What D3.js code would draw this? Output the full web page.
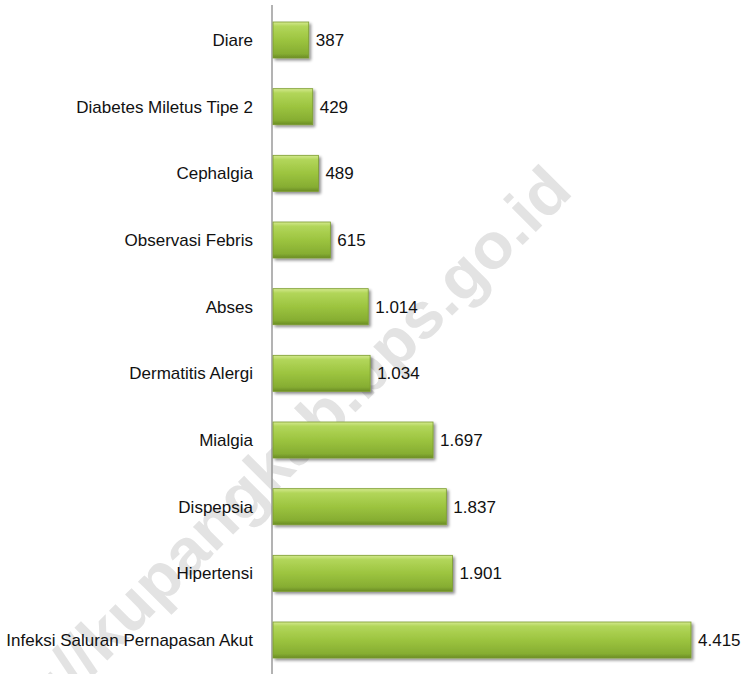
<!DOCTYPE html>
<html>
<head>
<meta charset="utf-8" />
<script src="https://cdn.jsdelivr.net/npm/d3@7"></script>
<style>
  html, body { margin: 0; padding: 0; background: #fff; }
  svg { display: block; }
  .lbl { font-family: "Liberation Sans", Arial, sans-serif; font-size: 17px; fill: #111; }
  .val { font-family: "Liberation Sans", Arial, sans-serif; font-size: 17px; fill: #111; }
  .wm { font-family: "Liberation Sans", Arial, sans-serif; font-weight: bold; font-size: 64px; fill: #e3e3e3; }
</style>
</head>
<body>
<svg id="mainsvg" width="746" height="674"></svg>
<script>
  // data (top to bottom)
  const categories = ["Diare", "Diabetes Miletus Tipe 2", "Cephalgia", "Observasi Febris", "Abses",
    "Dermatitis Alergi", "Mialgia", "Dispepsia", "Hipertensi", "Infeksi Saluran Pernapasan Akut"];
  const values = [387, 429, 489, 615, 1014, 1034, 1697, 1837, 1901, 4415];
  const watermark = "http://kupangkab.bps.go.id";

  const data = categories.map((c, i) => ({ name: c, value: values[i] }));

  const svg = d3.select("#mainsvg");
  const axisX = 272;

  const yScale = d3.scaleBand().domain(categories).range([22, 658]).paddingInner(0.46).paddingOuter(0);
  const xScale = d3.scaleLinear().domain([0, 4415]).range([axisX, 691]);
  const fmt = d3.formatLocale({ decimal: ",", thousands: ".", grouping: [3], currency: ["", ""] }).format(",d");

  const defs = svg.append("defs");
  const grad = defs.append("linearGradient").attr("id", "barGrad")
    .attr("x1", 0).attr("y1", 0).attr("x2", 0).attr("y2", 1);
  grad.append("stop").attr("offset", "0%").attr("stop-color", "#d4e98e");
  grad.append("stop").attr("offset", "12%").attr("stop-color", "#b2d65a");
  grad.append("stop").attr("offset", "50%").attr("stop-color", "#9cc43f");
  grad.append("stop").attr("offset", "88%").attr("stop-color", "#86ad32");
  grad.append("stop").attr("offset", "100%").attr("stop-color", "#6a8c25");

  const shadow = defs.append("filter").attr("id", "shadow").attr("x", "-5%").attr("y", "-20%")
    .attr("width", "120%").attr("height", "160%");
  shadow.append("feGaussianBlur").attr("in", "SourceAlpha").attr("stdDeviation", 1.5);
  shadow.append("feOffset").attr("dx", 2).attr("dy", 2).attr("result", "ob");
  shadow.append("feComponentTransfer").append("feFuncA").attr("type", "linear").attr("slope", 0.45);
  const merge = shadow.append("feMerge");
  merge.append("feMergeNode");
  merge.append("feMergeNode").attr("in", "SourceGraphic");

  // watermark
  svg.append("text").attr("class", "wm")
    .attr("transform", "translate(258,478) rotate(-45)")
    .attr("text-anchor", "middle").attr("dy", "0.35em")
    .attr("textLength", 850).attr("lengthAdjust", "spacingAndGlyphs")
    .text(watermark);

  // axis line
  svg.append("line").attr("x1", axisX).attr("x2", axisX).attr("y1", 5).attr("y2", 674)
    .attr("stroke", "#8a8a8a").attr("stroke-width", 1.3);

  const g = svg.append("g");
  g.selectAll(".bar").data(data).join("rect").attr("class", "bar")
    .attr("x", xScale(0) + 1)
    .attr("y", d => yScale(d.name))
    .attr("width", d => xScale(d.value) - xScale(0) - 1)
    .attr("height", yScale.bandwidth())
    .attr("fill", "url(#barGrad)")
    .attr("stroke", "#7b9c2e").attr("stroke-width", 0.8)
    .attr("filter", "url(#shadow)");

  g.selectAll(".lbl").data(data).join("text").attr("class", "lbl")
    .attr("x", 253)
    .attr("y", d => yScale(d.name) + yScale.bandwidth() / 2)
    .attr("dy", "0.35em").attr("text-anchor", "end")
    .text(d => d.name);

  g.selectAll(".val").data(data).join("text").attr("class", "val")
    .attr("x", d => xScale(d.value) + 7)
    .attr("y", d => yScale(d.name) + yScale.bandwidth() / 2)
    .attr("dy", "0.35em")
    .text(d => fmt(d.value));
</script>
</body>
</html>
